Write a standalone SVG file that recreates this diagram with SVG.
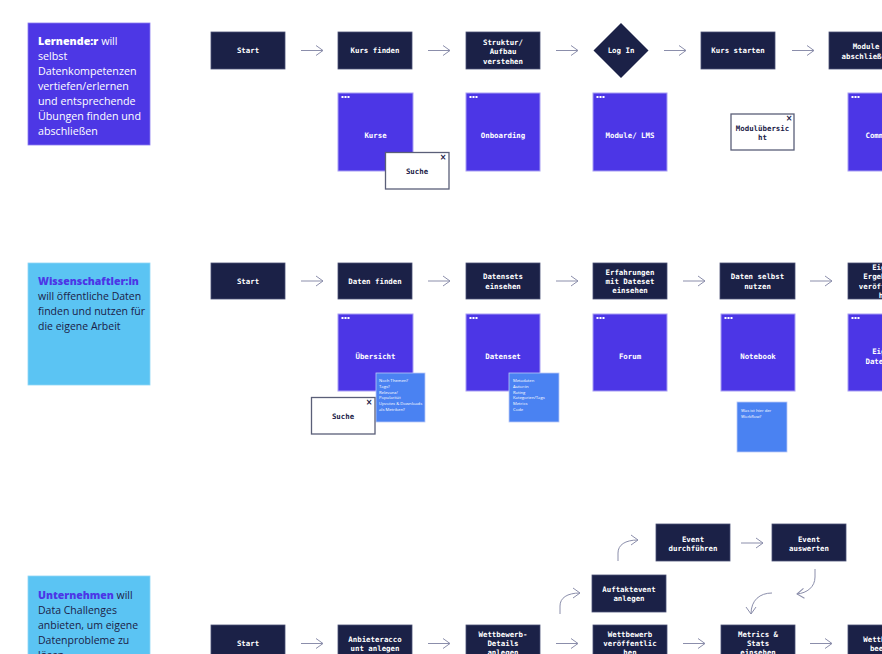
<svg xmlns="http://www.w3.org/2000/svg" width="882" height="654" viewBox="0 0 882 654">
<defs>
<marker id="ah" markerUnits="userSpaceOnUse" markerWidth="10" markerHeight="12" refX="7" refY="5" orient="auto" overflow="visible">
<path d="M0,0 L7,5 L0,10" fill="none" stroke="#8b8eab" stroke-width="1"/>
</marker>
</defs>
<style>
.bg{fill:#ffffff}
.nv{fill:#1b2147;stroke:#4a5075;stroke-width:0.8}
.tile{fill:#4c36e6;stroke:#a79ef3;stroke-width:1}
.note{fill:#4a82f2;stroke:#b9c9f7;stroke-width:0.8}
.pop{fill:#ffffff;stroke:#5a5f78;stroke-width:1.3}
.desc1{fill:#4d37e5;stroke:#8a7cf0;stroke-width:0.8}
.desc2{fill:#5bc4f3;stroke:#8fd6f6;stroke-width:0.8}
.m{font-family:"DejaVu Sans Mono","Liberation Mono",monospace;font-size:7.4px;font-weight:bold;fill:#ffffff;text-anchor:middle}
.mp{font-family:"DejaVu Sans Mono","Liberation Mono",monospace;font-size:7.4px;font-weight:bold;fill:#1b2147;text-anchor:middle}
.x{font-family:"DejaVu Sans",sans-serif;font-size:8px;font-weight:bold;fill:#1b2147;text-anchor:middle}
.d{font-family:"Open Sans","Liberation Sans",sans-serif;font-size:10.7px;fill:#ffffff}
.dd{font-family:"Open Sans","Liberation Sans",sans-serif;font-size:10.5px;fill:#1b2147}
.b{font-weight:800}
.pb{font-weight:800;fill:#4c36e6}
.n{font-family:"Open Sans","Liberation Sans",sans-serif;font-size:4.2px;fill:#ffffff}
.dot{fill:#ffffff}
.ar{fill:none;stroke:#8b8eab;stroke-width:1;marker-end:url(#ah)}
</style>
<rect class="bg" x="0" y="0" width="882" height="654"/>

<!-- Row 1 -->
<g id="desc-lernende">
<rect class="desc1" x="28" y="23" width="122" height="122"/>
<text class="d" x="38" y="45"><tspan class="b">Lernende:r</tspan> will</text>
<text class="d" x="38" y="60">selbst</text>
<text class="d" x="38" y="75">Datenkompetenzen</text>
<text class="d" x="38" y="90">vertiefen/erlernen</text>
<text class="d" x="38" y="105">und entsprechende</text>
<text class="d" x="38" y="120">Übungen finden und</text>
<text class="d" x="38" y="135">abschließen</text>
</g>
<g id="r1-start"><rect class="nv" x="211" y="32" width="74" height="37"/><text class="m" x="248" y="53">Start</text></g>
<g id="r1-kurs-finden"><rect class="nv" x="338" y="32" width="74" height="37"/><text class="m" x="375" y="53">Kurs finden</text></g>
<g id="r1-struktur"><rect class="nv" x="466" y="32" width="74" height="37"/><text class="m" x="503" y="45">Struktur/</text><text class="m" x="503" y="54.3">Aufbau</text><text class="m" x="503" y="63.5">verstehen</text></g>
<g id="r1-login"><polygon fill="#1b2147" points="621,23 648.5,50.5 621,78 593.5,50.5"/><text class="m" x="621" y="53">Log In</text></g>
<g id="r1-kurs-starten"><rect class="nv" x="701" y="32" width="74" height="37"/><text class="m" x="738" y="53">Kurs starten</text></g>
<g id="r1-module"><rect class="nv" x="829" y="32" width="74" height="37"/><text class="m" x="866" y="49.3">Module</text><text class="m" x="866" y="58.6">abschließen</text></g>

<g id="r1-tile-kurse"><rect class="tile" x="338" y="93" width="75" height="78"/><rect class="dot" x="341.5" y="96" width="2" height="2"/><rect class="dot" x="344.5" y="96" width="2" height="2"/><rect class="dot" x="347.5" y="96" width="2" height="2"/><text class="m" x="375.5" y="137.5">Kurse</text></g>
<g id="r1-tile-onboarding"><rect class="tile" x="466" y="93" width="74" height="78"/><rect class="dot" x="469.5" y="96" width="2" height="2"/><rect class="dot" x="472.5" y="96" width="2" height="2"/><rect class="dot" x="475.5" y="96" width="2" height="2"/><text class="m" x="503" y="137.5">Onboarding</text></g>
<g id="r1-tile-lms"><rect class="tile" x="593" y="93" width="74" height="78"/><rect class="dot" x="596.5" y="96" width="2" height="2"/><rect class="dot" x="599.5" y="96" width="2" height="2"/><rect class="dot" x="602.5" y="96" width="2" height="2"/><text class="m" x="630" y="137.5">Module/ LMS</text></g>
<g id="r1-tile-community"><rect class="tile" x="848" y="93" width="75" height="78"/><rect class="dot" x="851.5" y="96" width="2" height="2"/><rect class="dot" x="854.5" y="96" width="2" height="2"/><rect class="dot" x="857.5" y="96" width="2" height="2"/><text class="m" x="885.5" y="137.5">Community</text></g>
<g id="r1-pop-suche"><rect class="pop" x="385.5" y="152.5" width="63.5" height="36.5"/><text class="x" x="443" y="160">×</text><text class="mp" x="417" y="173.5">Suche</text></g>
<g id="r1-pop-modul"><rect class="pop" x="731" y="114" width="63" height="36"/><text class="x" x="789" y="121">×</text><text class="mp" x="762.5" y="130.6">Modulübersic</text><text class="mp" x="762.5" y="140">ht</text></g>

<!-- Row 2 -->
<g id="desc-wissenschaftler">
<rect class="desc2" x="28" y="263" width="122" height="122"/>
<text class="dd" x="38" y="285"><tspan class="pb">Wissenschaftler:in</tspan></text>
<text class="dd" x="38" y="300">will öffentliche Daten</text>
<text class="dd" x="38" y="315">finden und nutzen für</text>
<text class="dd" x="38" y="330">die eigene Arbeit</text>
</g>
<g id="r2-start"><rect class="nv" x="211" y="263" width="74" height="36"/><text class="m" x="248" y="283.6">Start</text></g>
<g id="r2-daten-finden"><rect class="nv" x="338" y="263" width="74" height="36"/><text class="m" x="375" y="283.6">Daten finden</text></g>
<g id="r2-datensets"><rect class="nv" x="466" y="263" width="74" height="36"/><text class="m" x="503" y="279">Datensets</text><text class="m" x="503" y="288.5">einsehen</text></g>
<g id="r2-erfahrungen"><rect class="nv" x="593" y="263" width="74" height="36"/><text class="m" x="630" y="274.6">Erfahrungen</text><text class="m" x="630" y="284">mit Dateset</text><text class="m" x="630" y="293.3">einsehen</text></g>
<g id="r2-selbst"><rect class="nv" x="720" y="263" width="75" height="36"/><text class="m" x="757.5" y="279">Daten selbst</text><text class="m" x="757.5" y="288.5">nutzen</text></g>
<g id="r2-ergebnisse"><rect class="nv" x="848" y="263" width="75" height="36"/><text class="m" x="885.5" y="270">Eigene</text><text class="m" x="885.5" y="279.3">Ergebnisse</text><text class="m" x="885.5" y="288.6">veröffentlic</text><text class="m" x="885.5" y="297.9">hen</text></g>

<g id="r2-tile-uebersicht"><rect class="tile" x="338" y="314" width="75" height="77"/><rect class="dot" x="341.5" y="317" width="2" height="2"/><rect class="dot" x="344.5" y="317" width="2" height="2"/><rect class="dot" x="347.5" y="317" width="2" height="2"/><text class="m" x="375.5" y="359">Übersicht</text></g>
<g id="r2-tile-datenset"><rect class="tile" x="466" y="314" width="74" height="77"/><rect class="dot" x="469.5" y="317" width="2" height="2"/><rect class="dot" x="472.5" y="317" width="2" height="2"/><rect class="dot" x="475.5" y="317" width="2" height="2"/><text class="m" x="503" y="359">Datenset</text></g>
<g id="r2-tile-forum"><rect class="tile" x="593" y="314" width="74" height="77"/><rect class="dot" x="596.5" y="317" width="2" height="2"/><rect class="dot" x="599.5" y="317" width="2" height="2"/><rect class="dot" x="602.5" y="317" width="2" height="2"/><text class="m" x="630" y="359">Forum</text></g>
<g id="r2-tile-notebook"><rect class="tile" x="721" y="314" width="74" height="77"/><rect class="dot" x="724.5" y="317" width="2" height="2"/><rect class="dot" x="727.5" y="317" width="2" height="2"/><rect class="dot" x="730.5" y="317" width="2" height="2"/><text class="m" x="758" y="359">Notebook</text></g>
<g id="r2-tile-eigene"><rect class="tile" x="848" y="314" width="75" height="77"/><rect class="dot" x="851.5" y="317" width="2" height="2"/><rect class="dot" x="854.5" y="317" width="2" height="2"/><rect class="dot" x="857.5" y="317" width="2" height="2"/><text class="m" x="885.5" y="354.3">Eigene</text><text class="m" x="885.5" y="363.6">Datensets</text></g>

<g id="r2-note-uebersicht"><rect class="note" x="376" y="373" width="49" height="49"/>
<text class="n" x="379" y="382">Noch Themen?</text><text class="n" x="379" y="387.8">Tags?</text><text class="n" x="379" y="393.6">Relevanz/</text><text class="n" x="379" y="399.4">Popularität</text><text class="n" x="379" y="405.2">Upvotes &amp; Downloads</text><text class="n" x="379" y="411">als Metriken?</text></g>
<g id="r2-note-datenset"><rect class="note" x="509" y="373" width="50" height="49"/>
<text class="n" x="513" y="382">Metadaten</text><text class="n" x="513" y="387.8">Autor:in</text><text class="n" x="513" y="393.6">Rating</text><text class="n" x="513" y="399.4">Kategorien/Tags</text><text class="n" x="513" y="405.2">Metrics</text><text class="n" x="513" y="411">Code</text></g>
<g id="r2-note-notebook"><rect class="note" x="737" y="402" width="50" height="50"/>
<text class="n" x="741" y="411.5">Was ist hier der</text><text class="n" x="741" y="417.5">Workflow?</text></g>
<g id="r2-pop-suche"><rect class="pop" x="311.5" y="397.5" width="63.5" height="36.5"/><text class="x" x="369" y="405">×</text><text class="mp" x="343" y="419">Suche</text></g>

<!-- Row 3 -->
<g id="desc-unternehmen">
<rect class="desc2" x="28" y="576" width="122" height="122"/>
<text class="dd" x="38" y="599"><tspan class="pb">Unternehmen</tspan> will</text>
<text class="dd" x="38" y="614">Data Challenges</text>
<text class="dd" x="38" y="629">anbieten, um eigene</text>
<text class="dd" x="38" y="644">Datenprobleme zu</text>
<text class="dd" x="38" y="659">lösen</text>
</g>
<g id="r3-start"><rect class="nv" x="211" y="625" width="74" height="37"/><text class="m" x="248" y="646">Start</text></g>
<g id="r3-anbieter"><rect class="nv" x="338" y="625" width="74" height="37"/><text class="m" x="375" y="641.5">Anbieteracco</text><text class="m" x="375" y="651">unt anlegen</text></g>
<g id="r3-details"><rect class="nv" x="466" y="625" width="74" height="37"/><text class="m" x="503" y="636.6">Wettbewerb-</text><text class="m" x="503" y="646">Details</text><text class="m" x="503" y="655.3">anlegen</text></g>
<g id="r3-veroeffentlichen"><rect class="nv" x="593" y="625" width="74" height="37"/><text class="m" x="630" y="636.6">Wettbewerb</text><text class="m" x="630" y="646">veröffentlic</text><text class="m" x="630" y="655.3">hen</text></g>
<g id="r3-metrics"><rect class="nv" x="721" y="625" width="74" height="37"/><text class="m" x="758" y="636.6">Metrics &amp;</text><text class="m" x="758" y="646">Stats</text><text class="m" x="758" y="655.3">einsehen</text></g>
<g id="r3-beenden"><rect class="nv" x="848" y="625" width="75" height="37"/><text class="m" x="885.5" y="641.5">Wettbewerb</text><text class="m" x="885.5" y="651">beenden</text></g>
<g id="r3-auftakt"><rect class="nv" x="592" y="575" width="74" height="37"/><text class="m" x="629" y="591.6">Auftaktevent</text><text class="m" x="629" y="601">anlegen</text></g>
<g id="r3-event-durch"><rect class="nv" x="656" y="524" width="74" height="37"/><text class="m" x="693" y="541.6">Event</text><text class="m" x="693" y="551">durchführen</text></g>
<g id="r3-event-aus"><rect class="nv" x="772" y="524" width="74" height="37"/><text class="m" x="809" y="541.6">Event</text><text class="m" x="809" y="551">auswerten</text></g>

<!-- Connectors -->
<g id="connectors">
<path class="ar" d="M301,50.5 H323"/>
<path class="ar" d="M428,50.5 H450"/>
<path class="ar" d="M556,50.5 H578"/>
<path class="ar" d="M664,50.5 H686"/>
<path class="ar" d="M792,50.5 H814"/>
<path class="ar" d="M301,281 H323"/>
<path class="ar" d="M428,281 H450"/>
<path class="ar" d="M556,281 H578"/>
<path class="ar" d="M683,281 H705"/>
<path class="ar" d="M810,281 H832"/>
<path class="ar" d="M301,643.5 H323"/>
<path class="ar" d="M428,643.5 H450"/>
<path class="ar" d="M556,643.5 H578"/>
<path class="ar" d="M683,643.5 H705"/>
<path class="ar" d="M810,643.5 H832"/>
<path class="ar" d="M741,543 H763"/>
<path class="ar" d="M560,614 V606 C560,598 567,593 580,593"/>
<path class="ar" d="M618,561 V553 C618,545 625,540 638,540"/>
<path class="ar" d="M815,569 V577 C815,587 807,593 797,594"/>
<path class="ar" d="M772,593 C760,593 751,600 751,614"/>
</g>
</svg>
